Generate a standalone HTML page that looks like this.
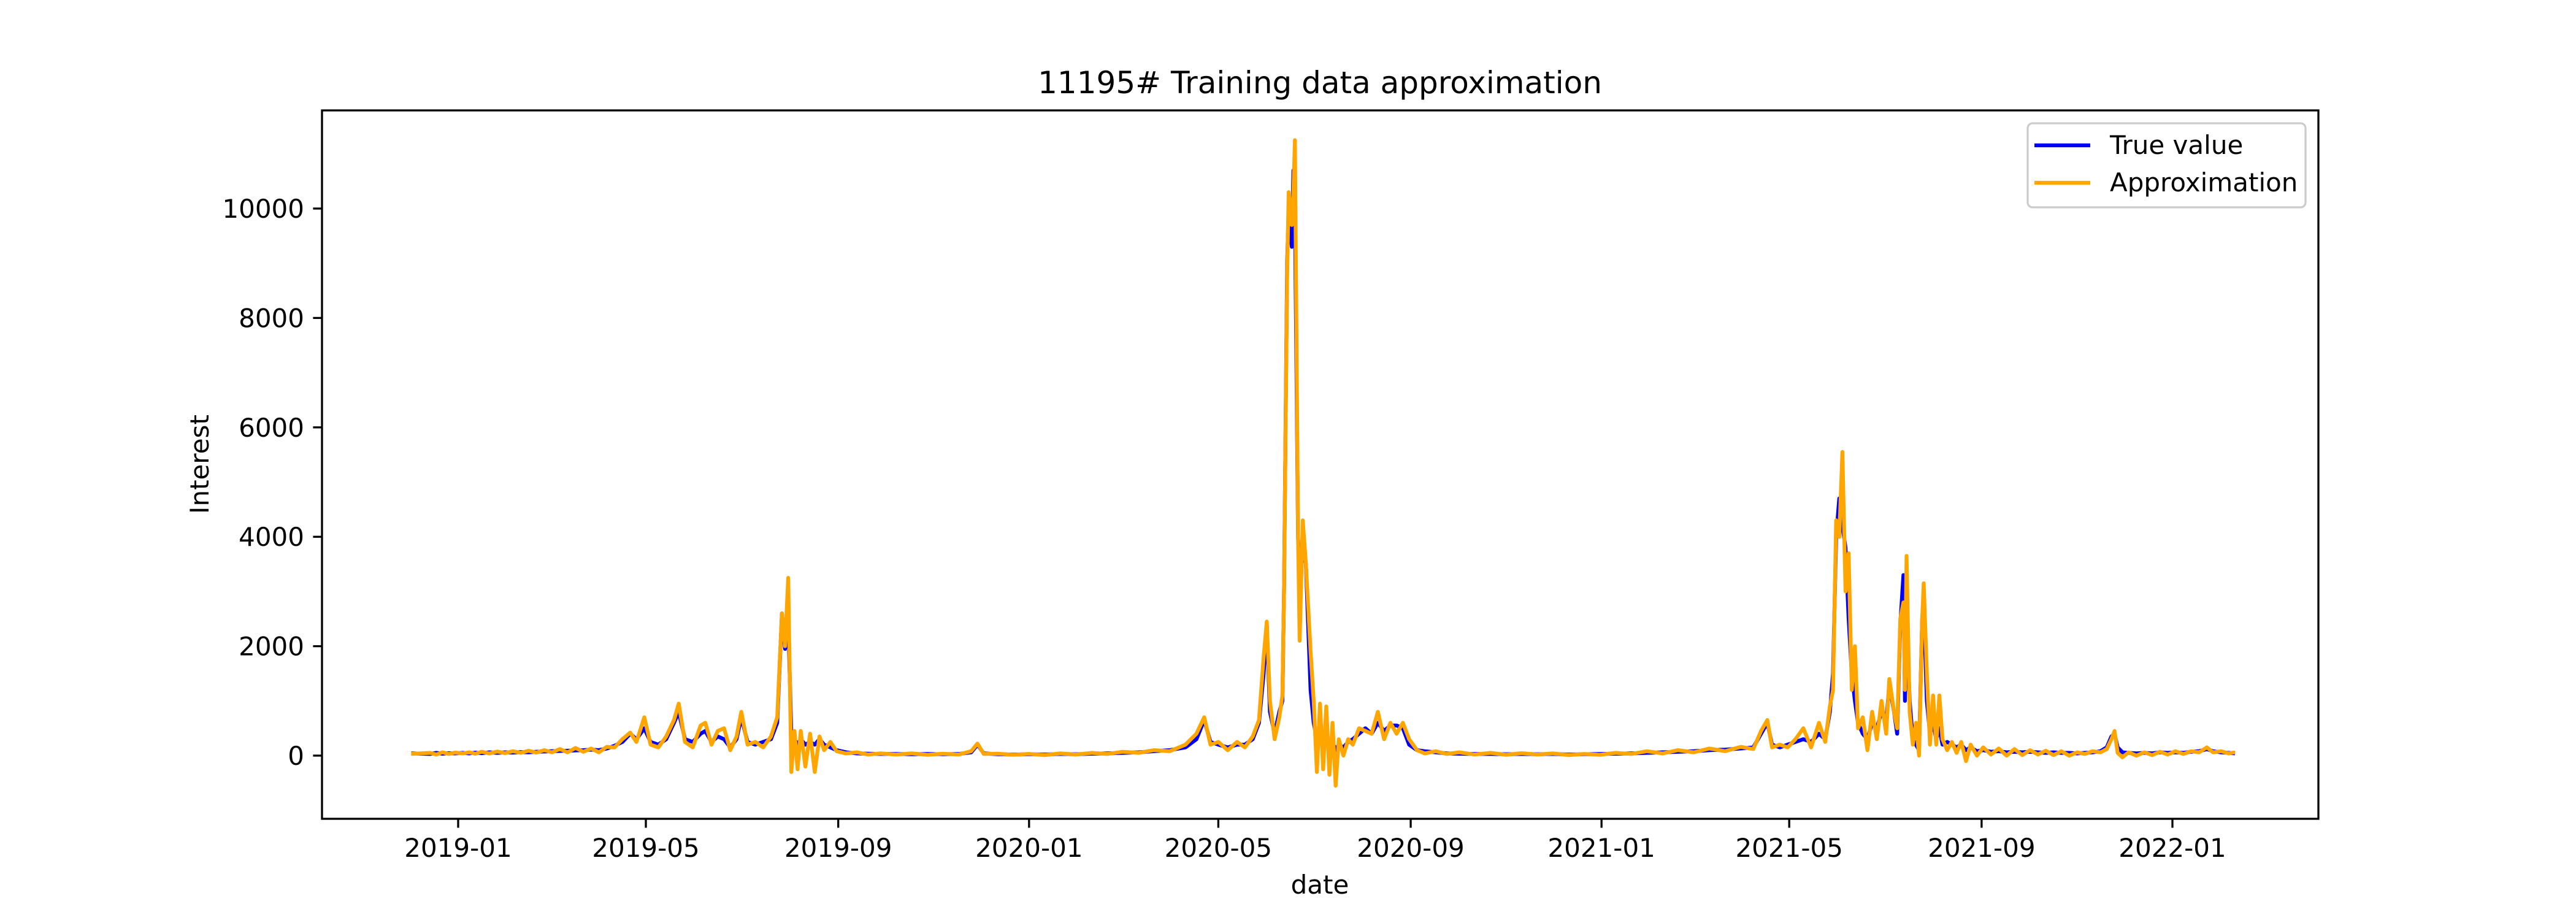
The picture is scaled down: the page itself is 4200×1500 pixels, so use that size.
<!DOCTYPE html>
<html><head><meta charset="utf-8"><style>
html,body{margin:0;padding:0;background:#fff}
svg{display:block;font-family:"DejaVu Sans","Liberation Sans",sans-serif}
</style></head><body>
<svg id="chart" width="4200" height="1500" viewBox="0 0 4200 1500" xmlns="http://www.w3.org/2000/svg">
<rect width="4200" height="1500" fill="#fff"/>
<defs><clipPath id="clip"><rect x="525" y="180" width="3255" height="1155"/></clipPath></defs>
<text x="2152" y="152" font-size="50" text-anchor="middle">11195# Training data approximation</text>
<text x="2152" y="1457" font-size="42" text-anchor="middle">date</text>
<text x="340" y="757" font-size="42" text-anchor="middle" transform="rotate(-90 340 757)">Interest</text>
<g id="ticks"></g>
<g id="series" clip-path="url(#clip)"></g>
<rect x="525" y="180" width="3255" height="1155" fill="none" stroke="#000" stroke-width="3.3"/>
<g>
<rect x="3306" y="201" width="453" height="137" rx="8" fill="#fff" fill-opacity="0.8" stroke="#ccc" stroke-width="3.3"/>
<line x1="3317" y1="237" x2="3408" y2="237" stroke="#0000ff" stroke-width="6.25"/>
<text x="3440" y="251" font-size="42">True value</text>
<line x1="3317" y1="298" x2="3408" y2="298" stroke="#ffa500" stroke-width="6.25"/>
<text x="3440" y="312" font-size="42">Approximation</text>
</g>
</svg>
<script>
// days since 2019-01-01
const days=[-30,-18,-14,-10,-6,-2,3,7,11,15,20,25,30,35,40,45,50,55,60,65,70,75,80,85,90,95,100,105,110,114,119,123,128,133,138,141,145,150,155,158,162,166,170,174,178,181,185,190,195,200,204,207,209,211,213,215,217,219,222,225,228,231,234,238,242,248,255,262,270,280,290,300,310,320,328,332,336,345,355,365,375,385,395,405,415,425,435,445,455,465,472,477,481,486,492,498,503,508,512,515,517,519,522,525,527,528,530,531,533,534,535,537,538,540,542,545,547,549,551,553,555,557,559,561,563,566,569,572,576,580,584,588,592,596,600,604,608,613,618,625,632,640,650,660,670,680,690,700,710,720,730,740,750,760,770,780,790,800,810,820,828,833,837,840,845,850,855,860,865,870,874,877,879,881,883,885,887,889,891,893,895,898,901,904,907,910,913,915,918,920,922,924,925,926,928,930,932,934,936,937,939,941,943,945,947,949,952,955,958,961,964,967,971,975,980,985,990,995,1000,1005,1010,1015,1020,1025,1030,1035,1040,1045,1050,1054,1057,1059,1061,1064,1068,1073,1078,1083,1088,1093,1098,1103,1108,1113,1118,1122,1127,1132,1136];
const trueValues=[40,30,50,35,45,40,50,40,55,45,60,50,60,55,65,60,70,75,80,85,90,95,100,110,100,130,180,250,400,300,500,250,200,300,600,800,300,250,400,450,250,350,300,150,300,700,250,200,250,300,600,2600,1950,2500,400,300,200,300,200,250,200,300,200,150,100,60,40,35,30,30,25,30,25,30,60,200,40,25,20,25,20,30,25,35,40,50,60,80,100,150,300,650,250,200,150,200,200,300,600,1500,2400,800,400,800,1000,3000,9000,10000,9300,10700,10000,4000,3000,3900,3500,1200,600,300,400,200,300,100,250,100,200,150,250,300,400,500,400,600,450,550,550,500,200,100,80,60,40,35,30,30,25,30,25,30,20,25,30,35,40,50,60,70,80,100,110,130,150,400,600,200,150,200,250,300,250,400,300,800,1500,4000,4700,4200,3800,2500,1500,1000,600,400,300,600,500,800,600,1300,800,400,2400,3300,1000,2500,1000,300,200,100,2500,2800,1000,400,600,300,500,200,250,200,150,200,100,150,80,100,70,80,60,70,60,70,60,50,60,50,50,40,50,60,80,150,350,400,150,60,50,40,50,40,60,50,60,50,70,80,120,80,60,50,40];
const approxValues=[30,50,20,60,30,55,40,60,35,70,40,75,45,80,50,90,55,100,60,120,60,140,70,130,60,160,150,300,420,250,700,200,150,350,650,950,250,150,550,600,200,450,500,100,350,800,200,250,150,350,700,2600,2000,3250,-300,450,-250,450,-200,400,-300,350,100,250,80,40,60,20,40,20,40,15,35,20,80,220,30,35,15,30,10,40,20,50,30,70,50,100,80,200,400,700,200,250,100,250,150,350,650,1800,2450,1000,300,700,1100,3000,8800,10300,9700,10300,11250,4000,2100,4300,3500,1900,1000,-300,950,-250,900,-350,600,-550,300,0,300,200,500,450,400,800,300,600,400,600,300,100,40,80,30,60,20,50,15,45,20,40,10,30,15,50,30,80,40,100,60,130,80,160,120,450,650,150,200,150,300,500,150,600,250,900,1200,4300,4000,5550,3000,3700,1200,2000,500,700,100,800,300,1000,400,1400,800,500,2500,2800,1200,3650,800,200,600,0,2500,3150,1500,200,1100,200,1100,300,100,250,50,250,-100,200,0,150,20,130,0,120,10,100,20,90,10,80,0,60,30,80,60,120,300,450,50,-30,60,0,60,10,70,20,80,30,80,60,150,60,80,40,60];
const yTicks=[0,2000,4000,6000,8000,10000];
const xTickLabels=["2019-01","2019-05","2019-09","2020-01","2020-05","2020-09","2021-01","2021-05","2021-09","2022-01"];

const NS="http://www.w3.org/2000/svg";
const X0=525,X1=3780,Y0=180,Y1=1335;
const ppd=(3542-747)/1096;
function dayOf(s){const p=s.split("-");return (Date.UTC(+p[0],+p[1]-1,1)-Date.UTC(2019,0,1))/86400000;}
function xs(d){return 747+d*ppd;}
const yMin=-1155,yMax=11794;
function ys(v){return Y1-(v-yMin)/(yMax-yMin)*(Y1-Y0);}
function mk(tag,attrs,parent){const e=document.createElementNS(NS,tag);for(const k in attrs)e.setAttribute(k,attrs[k]);parent.appendChild(e);return e;}
const tg=document.getElementById("ticks");
yTicks.forEach(v=>{
  const y=ys(v);
  const l=mk("line",{x1:X0-14.6,x2:X0,y1:y,y2:y,stroke:"#000","stroke-width":3.3},tg);
  
  
  const t=mk("text",{x:X0-29,y:y+15,"font-size":42,"text-anchor":"end"},tg);
  
  
  t.textContent=String(v);
});
xTickLabels.forEach(s=>{
  const x=xs(dayOf(s));
  const l=mk("line",{x1:x,x2:x,y1:Y1,y2:Y1+14.6,stroke:"#000","stroke-width":3.3},tg);
  
  
  const t=mk("text",{x:x,y:1397,"font-size":42,"text-anchor":"middle"},tg);
  
  
  t.textContent=s;
});
const sg=document.getElementById("series");
function path(vals){return vals.map((v,i)=>(i?"L":"M")+xs(days[i]).toFixed(1)+","+ys(v).toFixed(1)).join("");}
const p1=mk("path",{d:path(trueValues),fill:"none",stroke:"#0000ff","stroke-width":6.25,"stroke-linejoin":"round"},sg);


const p2=mk("path",{d:path(approxValues),fill:"none",stroke:"#ffa500","stroke-width":6.25,"stroke-linejoin":"round"},sg);


</script>
</body></html>
